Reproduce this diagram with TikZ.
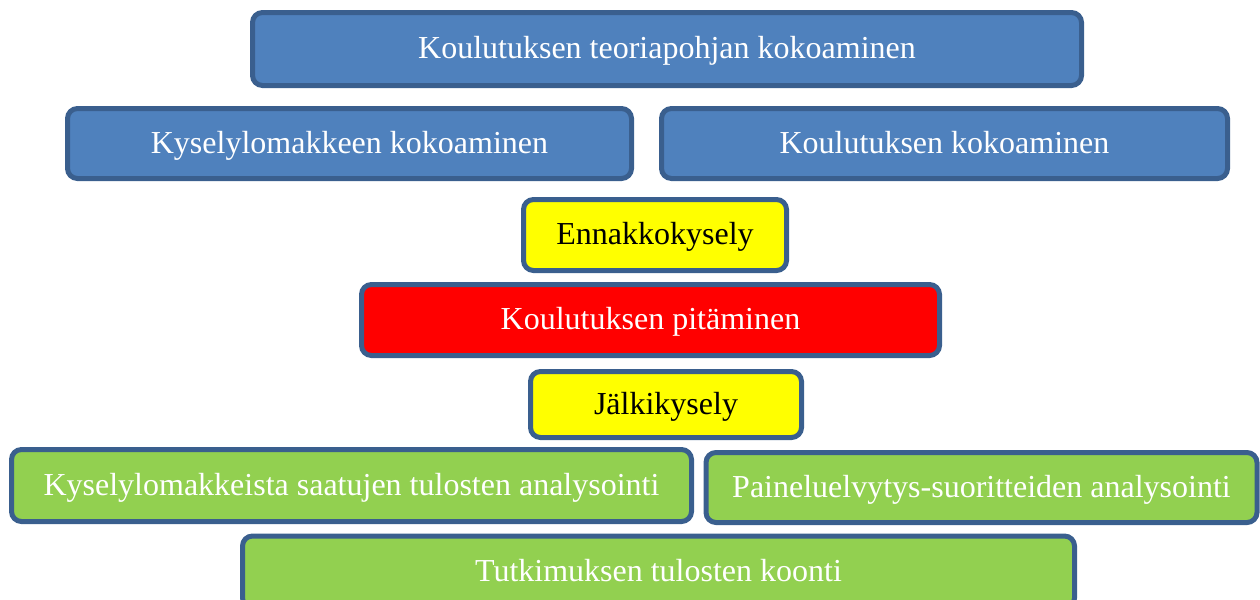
\documentclass[tikz,border=0pt]{standalone}
\usepackage{fontspec}
\setmainfont{Liberation Serif}
\usepackage{tikz}
\usetikzlibrary{positioning}
\definecolor{boxline}{HTML}{3A5F8E}
\definecolor{boxblue}{HTML}{4F81BD}
\definecolor{boxgreen}{HTML}{92D050}
\definecolor{boxyellow}{HTML}{FFFF00}
\definecolor{boxred}{HTML}{FF0000}

\begin{document}
\begin{tikzpicture}[x=0.5pt, y=-0.5pt,
    phase/.style={draw=boxline, line width=2.5pt, rounded corners=5pt, inner sep=0pt,
      text height=11.5pt, text depth=2pt,
      font=\fontsize{16}{19}\selectfont, text=white},
    bluebox/.style={phase, fill=boxblue},
    greenbox/.style={phase, fill=boxgreen},
    yellowbox/.style={phase, fill=boxyellow, text=black},
    redbox/.style={phase, fill=boxred}]
  \useasboundingbox (0,0) rectangle (1260,600);

  \node (teoria) [bluebox, minimum width=414.5pt, minimum height=36.5pt] at (667, 49) {Koulutuksen teoriapohjan kokoaminen};
  \node (lomake) [bluebox, minimum width=282pt, minimum height=35pt] at (349.5, 143.5) {Kyselylomakkeen kokoaminen};
  \node (koulutus) [bluebox, minimum width=283pt, minimum height=35pt] at (944.5, 143.5) {Koulutuksen kokoaminen};

  \node (ennakko) [yellowbox, minimum width=131.5pt, minimum height=35.5pt] at (655, 235) {Ennakkokysely};
  \node (pitaminen) [redbox, minimum width=289pt, minimum height=35.5pt] at (650.5, 320) {Koulutuksen pitäminen};
  \node (jalki) [yellowbox, minimum width=135.5pt, minimum height=33pt] at (666, 404.5) {Jälkikysely};

  \node (analyysi) [greenbox, minimum width=340pt, minimum height=36pt] at (351.5, 485.5) {Kyselylomakkeista saatujen tulosten analysointi};
  \node (suoritteet) [greenbox, minimum width=275.5pt, minimum height=35pt] at (981.5, 487.5) {Paineluelvytys-suoritteiden analysointi};
  \node (koonti) [greenbox, minimum width=416pt, minimum height=36pt] at (658.5, 572) {Tutkimuksen tulosten koonti};
\end{tikzpicture}
\end{document}
